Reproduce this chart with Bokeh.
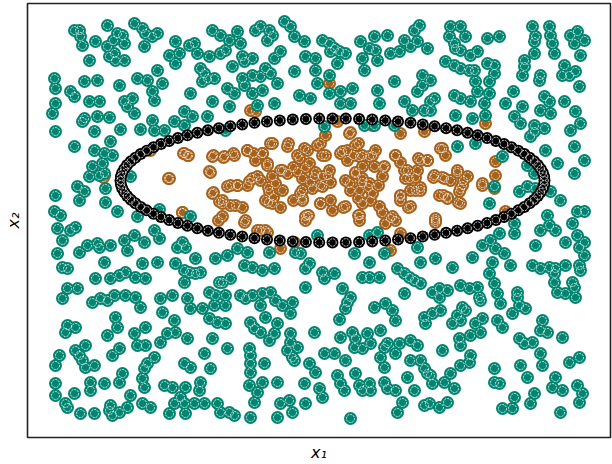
import numpy as np
from bokeh.plotting import figure
from bokeh.models import Range1d, Title
from bokeh.embed import file_html
from bokeh.resources import INLINE

teal_points = [
    (74,30),(79,30),(80,36),(82,45),(95,41),(107,25),(113,40),(117,33),(122,35),(124,43),(107,46),(109,56),
    (114,53),(115,60),(124,60),(89,60),(134,23),(142,28),(145,33),(152,36),(157,33),(144,46),(175,41),(169,55),
    (179,53),(175,63),(189,45),(194,43),(197,53),(209,56),(212,30),(220,35),(220,53),(157,70),(200,68),(204,73),
    (202,81),(207,78),(214,78),(54,78),(55,88),(84,81),(97,80),(119,85),(137,78),(147,80),(162,83),(152,91),
    (154,100),(70,91),(74,96),(55,103),(52,113),(89,101),(99,101),(124,101),(132,98),(127,106),(134,113),(190,93),
    (212,101),(184,111),(192,116),(207,116),(84,118),(82,121),(97,116),(109,117),(55,131),(94,131),(120,129),
    (140,129),(152,120),(154,130),(164,130),(174,121),(184,125),(74,146),(94,150),(110,141),(104,153),(112,155),
    (92,166),(102,163),(89,176),(99,175),(104,173),(130,176),(77,186),(84,191),(105,188),(55,195),(79,200),
    (105,202),(54,211),(60,215),(117,211),(137,216),(159,209),(190,216),
    (237,31),(229,40),(225,50),(240,43),(242,56),(232,66),(244,61),(252,58),(255,30),(260,26),(269,30),(272,35),
    (267,40),(284,21),(290,26),(294,36),(304,41),(322,40),(329,43),(334,48),(339,51),(345,53),(330,51),(305,56),
    (315,58),(280,51),(274,58),(337,63),(294,71),(315,70),(329,75),(265,68),(252,75),(242,78),(260,76),(270,73),
    (277,83),(244,85),(227,88),(234,93),(252,93),(262,90),(229,106),(257,105),(274,103),(299,95),(310,98),
    (317,83),(329,93),(340,91),(352,88),(350,103),(340,103),(324,126),(225,130),(360,41),(374,36),(387,35),
    (369,48),(375,50),(362,58),(377,60),(364,70),(390,53),(399,51),(404,40),(414,30),(410,46),(394,81),(377,90),
    (379,103),(404,101),(412,110),(364,125),(374,125),(394,125),
    (419,25),(417,41),(427,48),(450,26),(449,36),(454,43),(460,26),(465,36),(455,48),(460,50),(470,55),(477,51),
    (487,38),(499,36),(445,61),(454,65),(460,68),(469,70),(474,70),(487,63),(494,65),(494,73),(489,81),(475,81),
    (422,75),(430,80),(422,85),(417,91),(434,98),(430,101),(454,95),(460,98),(470,101),(477,91),(484,103),
    (489,93),(424,110),(430,110),(455,115),(472,118),(485,115),(532,26),(535,36),(534,41),(549,26),(550,35),
    (552,43),(554,53),(534,53),(524,60),(524,66),(522,75),(540,75),(539,80),(513,91),(505,103),(522,106),
    (514,116),(520,123),(534,125),(540,110),(544,96),(549,101),(550,113),(544,128),(534,131),(530,136),(564,65),
    (569,75),(575,71),(562,75),(570,35),(577,31),(584,40),(574,43),(580,55),(579,86),(564,101),(575,111),
    (580,123),(570,130),(574,146),(584,160),(557,163),(574,173),(545,150),(527,165),(534,173),(527,186),
    (519,191),(535,188),(550,191),(560,200),(547,215),(577,211),(584,211),(494,186),(489,203),(475,143),
    (457,146),(502,156),
    (57,228),(70,230),(75,227),(62,240),(57,253),(62,267),(67,268),(79,252),(87,245),(97,243),(99,247),(110,245),
    (124,240),(127,250),(134,235),(144,242),(154,230),(159,238),(104,262),(95,278),(110,278),(119,275),(125,272),
    (135,277),(145,278),(142,263),(157,262),(67,288),(77,288),(62,298),(92,302),(100,298),(107,300),(114,295),
    (125,295),(135,297),(140,307),(160,298),(172,295),(175,263),(177,247),(182,242),(185,247),(184,270),
    (189,272),(195,273),(200,272),(184,282),(195,258),(215,258),(219,282),(187,298),(190,308),(202,308),
    (209,292),(214,305),(215,295),(209,318),(217,322),(162,312),(174,320),(175,332),(167,333),(187,338),
    (160,342),(115,317),(117,327),(67,325),(75,327),(65,332),(107,335),(134,333),(145,327),(137,345),(145,345),
    (212,338),(204,353),(85,345),(75,350),(79,355),(82,360),(85,367),(59,355),(55,365),(94,365),(112,355),
    (119,348),(154,357),(147,363),(144,368),(184,363),(190,367),(210,368),(122,373),(119,382),(90,382),(90,390),
    (104,383),(142,378),(144,387),(164,385),(172,387),(185,387),(200,382),(199,390),(55,383),(55,395),(74,393),
    (65,403),(67,407),(80,413),(94,413),(109,410),(110,405),(112,415),(119,412),(127,407),(130,395),(142,403),
    (150,407),(174,403),(180,397),(184,403),(194,403),(204,403),(169,413),(185,413),(217,403),(220,412),
    (227,255),(237,248),(247,252),(269,252),(295,252),(300,253),(317,235),(354,253),(369,235),(377,232),
    (384,253),(369,262),(362,277),(369,277),(379,277),(397,268),(404,273),(409,277),(414,280),(222,282),
    (230,278),(244,265),(252,267),(262,270),(274,268),(305,268),(309,263),(322,272),(324,278),(334,273),
    (305,287),(342,288),(350,297),(347,302),(345,308),(374,307),(385,303),(392,310),(395,320),(404,293),
    (225,295),(225,305),(240,295),(245,298),(252,295),(262,293),(270,292),(260,305),(275,300),(282,305),
    (292,302),(290,313),(265,317),(250,322),(254,328),(260,332),(277,323),(274,333),(269,340),(225,323),
    (227,348),(290,333),(290,342),(297,347),(287,350),(292,357),(294,360),(314,332),(339,319),(340,337),
    (352,332),(355,338),(354,347),(362,348),(367,333),(370,343),(380,330),(384,347),(387,343),(399,343),
    (380,357),(395,353),(384,367),(410,340),(410,360),(407,377),(324,353),(334,353),(345,360),(309,363),
    (315,372),(337,375),(355,373),(249,348),(250,355),(250,363),(250,372),(264,363),(249,385),(262,382),
    (257,392),(254,402),(277,382),(304,383),(319,388),(322,397),(340,383),(344,390),(359,385),(362,390),
    (369,383),(370,390),(384,382),(387,388),(395,390),(402,402),(397,412),(414,390),(280,403),(289,400),
    (292,412),(305,403),(229,412),(234,415),(250,417),(277,417),(350,418),
    (417,247),(420,262),(435,258),(452,267),(472,257),(482,245),(490,240),(499,233),(495,248),(504,253),
    (492,262),(489,273),(510,265),(514,223),(514,233),(535,245),(540,230),(549,225),(555,230),(565,242),
    (572,223),(577,235),(584,242),(579,247),(584,255),(579,265),(580,270),(532,265),(540,268),(549,267),
    (555,268),(554,273),(565,265),(554,282),(572,282),(574,287),(557,292),(565,293),(575,297),(420,283),
    (432,292),(439,288),(439,297),(447,290),(460,285),(469,288),(477,287),(479,297),(480,300),(494,283),
    (497,293),(500,303),(517,292),(517,297),(519,305),(525,308),(512,313),(424,317),(425,323),(432,313),
    (440,310),(452,323),(457,315),(462,307),(465,310),(460,320),(475,323),(482,318),(480,332),(470,335),
    (459,338),(460,345),(497,320),(502,327),(542,320),(540,330),(547,332),(519,338),(524,343),(532,342),
    (562,337),(417,345),(442,350),(420,360),(424,368),(427,373),(432,383),(430,375),(444,382),(450,373),
    (454,388),(460,365),(469,362),(470,355),(494,368),(494,382),(499,383),(520,365),(527,377),(540,353),
    (542,365),(552,387),(555,377),(562,390),(569,362),(579,357),(577,385),(582,393),(579,402),(534,393),
    (530,403),(514,397),(512,408),(502,408),(560,412),(424,405),(429,403),(439,407),(447,402),
]

orange_points = [
    (184,153),(187,155),(212,156),(209,171),(169,178),(212,193),(219,201),(182,212),(104,175),(150,150),
    (329,83),(250,110),(255,111),(337,121),(372,125),
    (270,143),(287,146),(247,150),(234,155),(224,156),(262,153),(304,148),(320,143),(325,135),(349,133),
    (355,145),(322,155),(299,158),(309,163),(297,171),(302,178),(314,176),(322,176),(329,170),(312,188),
    (322,186),(302,190),(287,173),(280,170),(272,176),(275,183),(269,191),(265,200),(272,203),(257,176),
    (249,181),(237,185),(227,186),(267,163),(255,160),(342,151),(347,160),(359,156),(369,156),(375,150),
    (384,166),(374,166),(362,166),(355,173),(349,183),(362,178),(369,183),(359,190),(372,193),(382,176),
    (362,203),(379,206),(395,155),(404,170),(409,178),(400,196),(415,190),(302,200),(305,216),(320,203),
    (330,200),(332,210),(345,206),(359,215),(392,216),(410,206),(222,203),(235,205),(222,216),
    (424,131),(485,123),(442,148),(445,155),(420,160),(427,160),(417,170),(434,175),(444,178),(450,180),
    (457,170),(467,176),(462,185),(459,191),(482,185),(495,161),(495,175),(494,188),(439,195),(447,198),
    (460,203),(435,218),(420,190),(505,211),
    (307,150),(317,145),(325,155),(305,167),(315,172),(327,175),(310,182),(320,185),(330,182),(302,198),
    (308,215),(320,203),(340,153),(347,150),(353,155),(362,155),(350,132),(358,143),(372,155),(383,167),
    (345,180),(355,172),(362,182),(350,190),(358,198),(368,187),(378,185),(370,200),(343,207),(358,215),
    (382,212),(390,218),(400,133),(395,155),(400,162),(407,170),(405,178),(415,177),(420,187),(410,190),
    (400,195),(400,200),(408,207),(418,158),(427,160),(440,148),(442,177),(443,195),(447,197),(457,172),
    (463,180),(460,188),(458,202),(482,183),(433,177),(435,220),(307,215),
    (183,153),(188,155),(168,178),(210,172),(213,155),(223,157),(233,153),(247,150),(253,153),(262,153),
    (272,143),(288,143),(297,155),(267,165),(282,170),(293,167),(252,178),(260,180),(230,185),(237,185),
    (247,185),(213,192),(222,200),(230,205),(242,207),(245,220),(268,187),(273,197),(282,190),(268,202),
    (280,207),(293,200),(300,193),(182,212),(218,220),(260,230),(267,232),(103,177),
    (244,222),(257,230),(265,230),(280,248),(294,242),(385,223),(395,220),(400,233),(390,250),(359,220),
    (305,220),(435,222),
]

# Decision boundary drawn as markers: centre, semi-axes and number of markers
boundary_center = (332, 180)
boundary_semi_axes = (212, 62)
boundary_count = 100

x_label_text = "x\u2081"
y_label_text = "x\u2082"

TEAL = "#018571"
BROWN = "#a6611a"

p = figure(width=612, height=464,
           x_range=Range1d(27, 610), y_range=Range1d(437, 3),
           output_backend="svg", toolbar_location=None,
           min_border_left=27, min_border_right=2, min_border_top=3, min_border_bottom=27)

p.outline_line_color = "#222222"
p.outline_line_width = 1.6
p.xgrid.visible = False
p.ygrid.visible = False
p.xaxis.visible = False
p.yaxis.visible = False
p.background_fill_color = "white"
p.border_fill_color = "white"


def draw(points_x, points_y, color, size, ring):
    p.scatter(points_x, points_y, size=size, fill_color=color, line_color=None)
    p.scatter(points_x, points_y, size=ring, fill_color=None, line_color="white",
              line_width=0.9, line_alpha=0.9, line_dash="2 1")


ox, oy = zip(*orange_points)
draw(list(ox), list(oy), BROWN, 13, 8)
tx, ty = zip(*teal_points)
draw(list(tx), list(ty), TEAL, 13, 8)

theta = np.linspace(0, 2 * np.pi, boundary_count, endpoint=False)
bx = boundary_center[0] + boundary_semi_axes[0] * np.cos(theta)
by = boundary_center[1] + boundary_semi_axes[1] * np.sin(theta)
draw(bx, by, "black", 12, 7.5)

p.add_layout(Title(text=x_label_text, align="center", vertical_align="bottom",
                   text_font="DejaVu Sans", text_font_style="italic", text_font_size="16px",
                   text_color="black", standoff=6, offset=0), "below")
p.add_layout(Title(text=y_label_text, align="center", vertical_align="top",
                   text_font="DejaVu Sans", text_font_style="italic", text_font_size="16px",
                   text_color="black", standoff=6, offset=0), "left")

open("out.html", "w").write(file_html(p, INLINE))
